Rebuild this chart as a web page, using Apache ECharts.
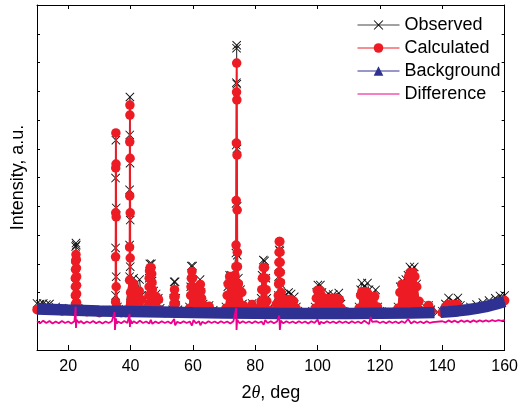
<!DOCTYPE html>
<html lang="en">

<head>
    <meta charset="UTF-8">
    <title>Rietveld plot</title>
    <style>
        html, body { margin: 0; padding: 0; background: #fff; }
    </style>
</head>

<body>
    <div id="chart" style="width:521px;height:407px;"></div>
</body>
<script src="https://cdn.jsdelivr.net/npm/echarts@6/dist/echarts.min.js"></script>
<script>
    // intensity in thousands of counts, [2theta, I]
    var xTicks = [20, 40, 60, 80, 100, 120, 140, 160];

    var observed = [
        [10, 1.62], [11, 1.6], [12, 1.62], [13, 1.58], [14, 1.6], [16, 1.5], [18, 1.45], [20, 1.42], [21.8, 1.42],
        [22.3, 1.7], [22.3, 2.3], [22.3, 2.9], [22.4, 3.6], [22.5, 3.72], [22.6, 3.65], [22.7, 3.0], [22.7, 2.4], [22.7, 1.8], [23.2, 1.45],
        [26, 1.4], [30, 1.38], [34.5, 1.38],
        [35.2, 1.9], [35.2, 3.55], [35.2, 5.98], [35.3, 7.3], [35.4, 4.94], [35.4, 2.55], [35.8, 1.5],
        [37, 1.4], [38.5, 1.42],
        [39.7, 2.55], [39.7, 3.65], [39.7, 5.57], [39.75, 7.48], [39.8, 8.8], [39.85, 6.5], [39.9, 4.52], [39.9, 2.9], [40.1, 1.9],
        [40.6, 2.0], [41.0, 2.5], [41.4, 2.1], [42.3, 1.9], [42.9, 2.45], [43.5, 1.9], [44.2, 1.5],
        [45.9, 1.9], [46.0, 2.5], [46.2, 3.0], [46.7, 3.0], [46.9, 2.4], [47.4, 2.05], [48.2, 1.95], [48.9, 1.8], [49.5, 1.45],
        [51, 1.35], [53.5, 1.4],
        [53.9, 1.8], [54.0, 2.37], [54.3, 2.37], [54.5, 1.8], [55.2, 1.4],
        [57.5, 1.35], [58.9, 1.5],
        [59.3, 2.2], [59.5, 2.92], [59.9, 2.92], [60.2, 2.2], [60.8, 1.7],
        [61.9, 2.0], [62.3, 2.45], [62.6, 2.0], [63.3, 1.6], [65.2, 1.55], [66.5, 1.38],
        [69, 1.33], [70.6, 1.5],
        [71.2, 2.2], [71.8, 2.6], [72.4, 2.6], [73.0, 2.5],
        [73.8, 3.37], [73.85, 5.1], [73.9, 7.13], [73.95, 9.3], [74.0, 10.5], [74.05, 10.6], [74.1, 9.25],
        [74.15, 7.0], [74.2, 5.0], [74.25, 3.3], [74.6, 2.5], [75.3, 2.1], [75.9, 1.6], [76.5, 1.35],
        [78.3, 1.45], [79.0, 1.62], [79.7, 1.45],
        [81.9, 1.8], [82.2, 2.6], [82.6, 3.13], [83.0, 3.1], [83.4, 2.5], [83.7, 1.8], [84.5, 1.45],
        [87.4, 1.9], [87.5, 2.55], [87.6, 2.9], [87.7, 3.48], [87.9, 3.45], [88.0, 2.9], [88.1, 2.3], [88.6, 1.9],
        [89.5, 1.9], [90.7, 2.0], [91.5, 1.95], [92.5, 1.85], [93.2, 1.5],
        [96, 1.35], [99.2, 1.5],
        [99.7, 2.0], [100.1, 2.26], [100.9, 2.26], [101.4, 2.0], [102.3, 1.85], [103.5, 1.95], [105, 1.93], [106.8, 1.98], [107.5, 1.6], [108.2, 1.35],
        [111, 1.33], [113.3, 1.5],
        [113.8, 2.1], [114.2, 2.33], [115, 2.2], [116, 2.33], [116.5, 2.1], [117.2, 1.9], [118.6, 2.09], [119.3, 1.5], [120, 1.35],
        [123, 1.33], [125.8, 1.5],
        [126.5, 2.2], [127.3, 2.4], [128.3, 2.45], [129.0, 2.6], [129.6, 2.89], [130.3, 2.8], [131.0, 2.89], [131.8, 2.3], [132.6, 1.6], [133.3, 1.35],
        [135.0, 1.45], [135.6, 1.55], [136.3, 1.4], [138.5, 1.32], [140, 1.35],
        [141, 1.6], [142, 1.81], [143.5, 1.7], [145, 1.81], [145.8, 1.55],
        [147, 1.45], [149, 1.5], [151, 1.58], [153, 1.65], [155, 1.72], [157, 1.8], [158.5, 1.88], [160, 1.9]
    ];

    var calculated = [
        [10, 1.4], [14, 1.4], [18, 1.36], [21.8, 1.36],
        [22.3, 1.6], [22.3, 1.9], [22.3, 2.2], [22.3, 2.5], [22.35, 2.8], [22.4, 3.1], [22.5, 3.32], [22.6, 3.15], [22.65, 2.85], [22.7, 2.55], [22.7, 2.25], [22.7, 1.95], [22.7, 1.65], [23.2, 1.38],
        [26, 1.33], [30, 1.3], [34.5, 1.3],
        [35.2, 1.67], [35.2, 3.24], [35.25, 4.77], [35.25, 6.33], [35.3, 7.55], [35.35, 6.47], [35.4, 4.63], [35.4, 2.2], [35.5, 1.5],
        [35.8, 1.35], [37, 1.3], [38.5, 1.3],
        [39.7, 2.43], [39.7, 3.58], [39.75, 5.36], [39.75, 7.24], [39.8, 8.17], [39.8, 8.52], [39.85, 6.67], [39.9, 4.77], [39.9, 3.2], [40.0, 2.0],
        [40.6, 1.9], [41.0, 2.3], [41.4, 2.0], [42.3, 1.8], [42.8, 2.05], [43.5, 1.75], [44.2, 1.4],
        [45.9, 1.6], [45.9, 1.9], [45.95, 2.2], [46.0, 2.5], [46.1, 2.75], [46.3, 2.87], [46.6, 2.87], [46.8, 2.65], [46.9, 2.35], [47.0, 2.1], [47.6, 1.85], [48.3, 1.85], [49.0, 1.75], [49.5, 1.4],
        [51, 1.3], [53.5, 1.35],
        [53.9, 1.6], [53.9, 1.85], [54.1, 2.1], [54.3, 1.85], [54.4, 1.6], [55.2, 1.33],
        [57.5, 1.3], [58.9, 1.45],
        [59.3, 1.9], [59.4, 2.2], [59.5, 2.5], [59.7, 2.73], [59.9, 2.5], [60.0, 2.2], [60.2, 1.9], [60.8, 1.6],
        [61.9, 1.85], [62.1, 2.1], [62.4, 2.28], [62.6, 2.05], [62.8, 1.8], [63.4, 1.55], [65.2, 1.52], [66.5, 1.33],
        [69, 1.3], [70.6, 1.45],
        [71.0, 1.9], [71.3, 2.3], [71.8, 2.56], [72.4, 2.56], [73.0, 2.45], [73.5, 2.6],
        [73.8, 2.9], [73.85, 3.65], [73.9, 5.2], [73.95, 7.2], [74.0, 8.97], [74.05, 9.98], [74.1, 8.7], [74.15, 6.78], [74.2, 4.87], [74.25, 3.4], [74.3, 2.9],
        [74.6, 2.3], [75.2, 2.05], [75.7, 2.0], [76.2, 1.55], [76.8, 1.33],
        [78.3, 1.4], [79.0, 1.58], [79.7, 1.4],
        [81.9, 1.7], [82.1, 2.1], [82.3, 2.5], [82.6, 2.87], [83.0, 2.87], [83.3, 2.5], [83.5, 2.1], [83.7, 1.7], [84.5, 1.38],
        [86.8, 1.6], [87.4, 1.9], [87.5, 2.3], [87.55, 2.7], [87.6, 3.05], [87.65, 3.4], [87.7, 3.77], [87.9, 3.77], [87.95, 3.4], [88.0, 3.05], [88.05, 2.7], [88.1, 2.35], [88.3, 2.0],
        [88.8, 1.76], [89.5, 1.76], [90.4, 1.76], [91.3, 1.76], [92.3, 1.7], [93.1, 1.45],
        [96, 1.3], [99.2, 1.45],
        [99.6, 1.8], [99.9, 2.07], [100.8, 2.07], [101.2, 1.9], [102, 1.79], [103, 1.79], [104.5, 1.79], [106, 1.79], [107, 1.75], [107.6, 1.45], [108.2, 1.3],
        [111, 1.28], [113.3, 1.45],
        [113.8, 1.9], [114.2, 2.03], [115.2, 2.03], [115.9, 2.0], [116.5, 1.9], [117.3, 1.86], [118.3, 1.86], [119.2, 1.5], [120, 1.3],
        [123, 1.28], [125.8, 1.45],
        [126.4, 2.0], [127.0, 2.28], [127.8, 2.28], [128.5, 2.3], [129.2, 2.55], [129.8, 2.7], [130.5, 2.7], [131.2, 2.55], [131.8, 2.2], [132.5, 1.7], [133.2, 1.35],
        [135.0, 1.4], [135.6, 1.55], [136.3, 1.38], [140, 1.3],
        [141.0, 1.5], [141.8, 1.58], [143.5, 1.58], [144.8, 1.58], [145.6, 1.45],
        [147, 1.38], [150, 1.42], [153, 1.5], [156, 1.58], [158, 1.65], [160, 1.72]
    ];

    var background = [
        [10, 1.43], [20, 1.39], [30, 1.36], [40, 1.34], [50, 1.32], [60, 1.3], [70, 1.29], [80, 1.28],
        [90, 1.27], [100, 1.27], [110, 1.27], [120, 1.28], [130, 1.29], [137.5, 1.3], [138.5, null],
        [139.4, 1.31], [142, 1.33], [145, 1.36], [148, 1.4], [151, 1.45], [154, 1.51], [157, 1.59], [160, 1.69]
    ];

    var difference = [
        [10, 1.0], [11, 0.93], [12, 1.02], [13, 0.94], [14, 1.01], [15, 0.92], [16, 0.99], [17, 0.93], [18, 1.01], [19, 0.94],
        [20, 0.99], [21, 0.92], [22, 1.0], [22.4, 1.5], [22.5, 0.77], [22.7, 1.05], [23.5, 0.94], [24, 1.01], [25, 0.92],
        [26, 0.99], [27, 0.94], [28, 1.01], [29, 0.93], [30, 0.99], [31, 0.92], [32, 0.99], [33, 0.94], [34, 1.0],
        [34.9, 1.32], [35.0, 0.7], [35.3, 1.1], [35.6, 0.92], [36, 0.99], [37, 0.93], [38, 1.01], [39, 0.94],
        [39.7, 1.25], [39.8, 0.8], [40.0, 1.05], [40.5, 0.92], [41, 1.0], [42, 0.93], [43, 1.02], [44, 0.94], [45, 0.99],
        [46, 0.92], [46.5, 1.05], [47, 0.91], [48, 0.99], [49, 0.93], [50, 1.0], [51, 0.94], [52, 0.99], [53, 0.92],
        [54, 1.08], [54.3, 0.86], [55, 0.98], [56, 0.93], [57, 1.0], [58, 0.94], [59, 0.99], [59.7, 0.85], [60.2, 1.04],
        [61, 0.93], [62, 1.0], [62.4, 0.86], [63, 0.98], [64, 0.92], [65, 1.0], [66, 0.94], [67, 0.99], [68, 0.93],
        [69, 1.0], [70, 0.94], [71, 0.99], [72, 0.92], [73, 1.0], [73.9, 1.46], [74.0, 0.7], [74.2, 1.05], [75, 0.93],
        [76, 1.0], [77, 0.94], [78, 0.99], [79, 0.93], [80, 1.0], [81, 0.94], [82, 0.99], [82.7, 0.88], [83.2, 1.04],
        [84, 0.94], [85, 1.0], [86, 0.93], [87, 0.99], [87.7, 1.2], [87.9, 0.7], [88.2, 1.02], [89, 0.93], [90, 1.0],
        [91, 0.94], [92, 0.99], [93, 0.93], [94, 1.0], [95, 0.94], [96, 0.99], [97, 0.92], [98, 1.0], [99, 0.94],
        [100, 1.06], [100.6, 0.88], [101, 0.98], [102, 0.93], [103, 1.0], [104, 0.94], [105, 0.99], [106, 0.93],
        [107, 1.0], [108, 0.94], [109, 0.99], [110, 0.93], [111, 1.0], [112, 0.94], [113, 0.99], [114, 0.93],
        [115, 1.02], [116.5, 0.9], [117, 1.15], [117.5, 0.98], [118, 0.93], [119, 1.0], [120, 0.94], [121, 0.99],
        [122, 0.93], [123, 1.0], [124, 0.94], [125, 0.99], [126, 0.93], [127, 1.0], [128, 0.94], [129, 1.08],
        [130, 0.92], [131, 1.0], [132, 0.94], [133, 0.99], [134, 0.93], [135, 1.0], [136, 0.94], [137, 0.97],
        [140, 1.0], [141, 0.96], [142, 1.03], [143, 0.97], [144, 1.02], [145, 0.96], [146, 1.03], [147, 0.98],
        [148, 1.02], [149, 0.97], [150, 1.03], [151, 0.98], [152, 1.03], [153, 0.99], [154, 1.03], [155, 0.99],
        [156, 1.04], [157, 1.0], [158, 1.04], [159, 1.01], [160, 1.04]
    ];

    var crossPath = 'path://M0,0.7L0.7,0L5,4.3L9.3,0L10,0.7L5.7,5L10,9.3L9.3,10L5,5.7L0.7,10L0,9.3L4.3,5Z';
    var font = 'Liberation Sans, Arial, sans-serif';
    var red = '#ed1c24';

    var option = {
        animation: false,
        backgroundColor: '#fff',
        grid: { left: 37, right: 14, top: 5, bottom: 57 },
        legend: {
            left: 357,
            top: 16,
            padding: 0,
            orient: 'vertical',
            itemWidth: 42,
            itemHeight: 12,
            itemGap: 5,
            textStyle: { fontFamily: font, fontSize: 18, color: '#000' },
            lineStyle: { width: 1 },
            data: [
                'Observed',
                'Calculated',
                'Background',
                { name: 'Difference', itemStyle: { opacity: 0 } }
            ]
        },
        xAxis: [
            {
                type: 'value',
                min: 10,
                max: 160,
                position: 'bottom',
                name: '2{i|θ}, deg',
                nameLocation: 'middle',
                nameGap: 34,
                nameTextStyle: {
                    fontFamily: font, fontSize: 18, color: '#000',
                    rich: { i: { fontFamily: 'Liberation Serif', fontStyle: 'italic', fontSize: 18, color: '#000' } }
                },
                axisLine: { onZero: false, lineStyle: { color: '#000', width: 1 } },
                axisTick: { inside: true, length: 5, customValues: xTicks, lineStyle: { color: '#000' } },
                axisLabel: { customValues: xTicks, fontFamily: font, fontSize: 16, color: '#000', margin: 9 },
                splitLine: { show: false }
            },
            {
                type: 'value',
                min: 10,
                max: 160,
                position: 'top',
                axisLine: { onZero: false, lineStyle: { color: '#000', width: 1 } },
                axisTick: { inside: true, length: 4, customValues: xTicks, lineStyle: { color: '#000' } },
                axisLabel: { show: false },
                splitLine: { show: false }
            }
        ],
        yAxis: [
            {
                type: 'value',
                min: 0,
                max: 12,
                interval: 1,
                position: 'left',
                name: 'Intensity, a.u.',
                nameLocation: 'middle',
                nameGap: 10,
                nameTextStyle: { fontFamily: font, fontSize: 18, color: '#000' },
                axisLine: { show: true, onZero: false, lineStyle: { color: '#000', width: 1 } },
                axisTick: { show: true, inside: true, length: 3, lineStyle: { color: '#000' } },
                axisLabel: { show: false },
                splitLine: { show: false }
            },
            {
                type: 'value',
                min: 0,
                max: 12,
                interval: 1,
                position: 'right',
                axisLine: { show: true, onZero: false, lineStyle: { color: '#000', width: 1 } },
                axisTick: { show: true, inside: true, length: 3, lineStyle: { color: '#000' } },
                axisLabel: { show: false },
                splitLine: { show: false }
            }
        ],
        series: [
            {
                name: 'Observed',
                type: 'line',
                data: observed,
                symbol: crossPath,
                symbolSize: 9,
                itemStyle: { color: '#111' },
                lineStyle: { color: '#444', width: 1 },
                z: 2
            },
            {
                name: 'Calculated',
                type: 'line',
                data: calculated,
                symbol: 'circle',
                symbolSize: 9.5,
                itemStyle: { color: red },
                lineStyle: { color: red, width: 1.8 },
                // fill under the profile down to the background band
                areaStyle: {
                    origin: 1.3,
                    opacity: 1,
                    color: {
                        type: 'linear', x: 0, y: 0, x2: 1, y2: 0,
                        colorStops: [
                            { offset: 0, color: red },
                            { offset: 0.945, color: red },
                            { offset: 0.946, color: 'rgba(237,28,36,0)' },
                            { offset: 1, color: 'rgba(237,28,36,0)' }
                        ]
                    }
                },
                z: 3
            },
            {
                name: 'Background',
                type: 'line',
                data: background,
                symbol: 'triangle',
                symbolSize: 10,
                showSymbol: false,
                connectNulls: false,
                itemStyle: { color: '#2e3192' },
                lineStyle: { color: '#2e3192', width: 11.5 },
                z: 4
            },
            {
                name: 'Difference',
                type: 'line',
                data: difference,
                symbol: 'none',
                itemStyle: { color: '#ec008c' },
                lineStyle: { color: '#ec008c', width: 1.8 },
                z: 5
            }
        ]
    };

    var chart = echarts.init(document.getElementById('chart'));
    chart.setOption(option);
</script>

</html>
